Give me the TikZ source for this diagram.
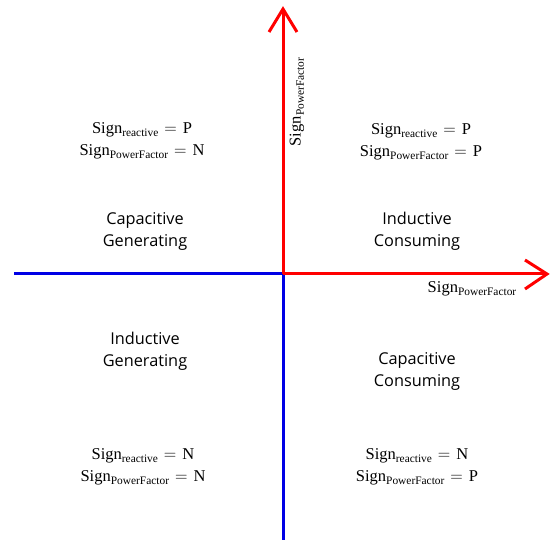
\documentclass[tikz,border=0pt]{standalone}
\usepackage{fontspec}
\setmainfont{Liberation Serif}
\newfontfamily\quadfont{Open Sans}
\begin{document}
\begin{tikzpicture}[x=1pt,y=-1pt,
  redaxis/.style={draw=red,line width=3pt},
  blueaxis/.style={draw=blue!90!black,line width=3pt},
  quad/.style={font=\quadfont\fontsize{16.3}{22}\selectfont,align=center,inner sep=0pt},
  signlbl/.style={font=\fontsize{16.5}{22}\selectfont,align=center,inner sep=0pt}]
\useasboundingbox (0,0) rectangle (550,540);
\newcommand{\lowsub}[1]{\raisebox{-3.2pt}{\fontsize{11.4}{12}\selectfont #1}}
\newcommand{\sgn}[2]{Sign\lowsub{#1}\hspace{6pt}$=$\hspace{6pt}#2}
\coordinate (O) at (283,274);
\coordinate (top) at (283,9);
\coordinate (right) at (547,274);
\coordinate (left) at (14,274);
\coordinate (bottom) at (283,540);
\coordinate (tl) at (269,32);
\coordinate (tr) at (297,32);
\coordinate (ru) at (525,260);
\coordinate (rd) at (525,289);
% blue axes
\draw[blueaxis] (left) -- (O);
\draw[blueaxis] (O) -- (bottom);
% red axes
\draw[redaxis] (O) -- (top);
\draw[redaxis] (O) -- (right);
\draw[redaxis,line join=miter] (tl) -- (top) -- (tr);
\draw[redaxis,line join=miter] (ru) -- (right) -- (rd);
% axis labels
\node[signlbl,rotate=90] (ylab) at (297,102) {Sign\lowsub{PowerFactor}};
\node[signlbl] (xlab) at (472,289) {Sign\lowsub{PowerFactor}};
% sign labels
\node[signlbl] (s1) at (142,141) {\sgn{reactive}{P}\\\sgn{PowerFactor}{N}};
\node[signlbl] (s2) at (421,142) {\sgn{reactive}{P}\\\sgn{PowerFactor}{P}};
\node[signlbl] (s3) at (143,467) {\sgn{reactive}{N}\\\sgn{PowerFactor}{N}};
\node[signlbl] (s4) at (417,467) {\sgn{reactive}{N}\\\sgn{PowerFactor}{P}};
% quadrant labels
\node[quad] (q1) at (145,231) {Capacitive\\Generating};
\node[quad] (q2) at (417,231) {Inductive\\Consuming};
\node[quad] (q3) at (145,351) {Inductive\\Generating};
\node[quad] (q4) at (417,371) {Capacitive\\Consuming};
\end{tikzpicture}
\end{document}
